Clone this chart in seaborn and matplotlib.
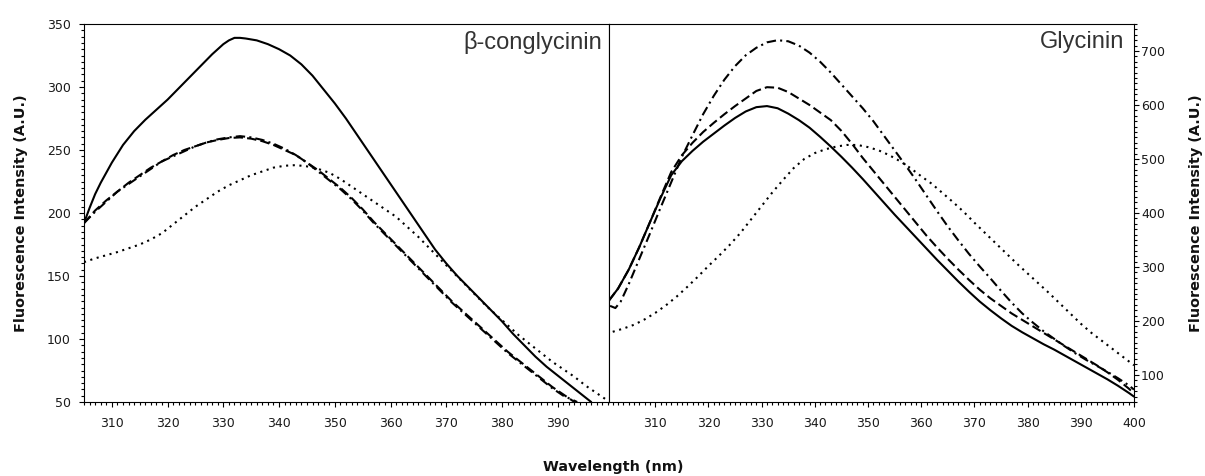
import matplotlib
matplotlib.use("Agg")
import matplotlib.pyplot as plt
from matplotlib.ticker import MultipleLocator
import pandas as pd
import seaborn as sns

# ---- beta-conglycinin emission spectra (left panel) ----
bc_solid_nm = [305, 306, 307, 308, 309, 310, 312, 314, 316, 318, 320, 322, 324, 326, 328,
               330, 331, 332, 333, 334, 336, 338, 340, 342, 344, 346, 348, 350, 352, 354,
               356, 358, 360, 362, 364, 366, 368, 370, 372, 374, 376, 378, 380, 382, 384,
               386, 388, 390, 392, 394, 396]
bc_solid = [192, 204, 215, 224, 232, 240, 254, 265, 274, 282, 290, 299, 308, 317, 326,
            334, 337, 339, 339, 338.5, 337, 334, 330, 325, 318, 309, 298, 287, 275, 262,
            249, 236, 223, 210, 197, 184, 171, 160, 150, 141, 132, 123, 114, 104, 95,
            86, 78, 71, 64, 57, 50]

bc_dash_nm = [305, 307, 309, 311, 313, 315, 317, 319, 321, 323, 325, 327, 329, 331, 333,
              335, 337, 339, 341, 343, 345, 347, 349, 351, 353, 355, 357, 359, 361, 363,
              365, 367, 369, 371, 373, 375, 377, 379, 381, 383, 385, 387, 389, 391, 393]
bc_dash = [192, 202, 210, 217, 224, 230, 236, 241, 246, 250, 253, 256, 258, 259.5, 260,
           259, 257, 254, 250, 246, 240, 234, 227, 220, 212, 203, 193, 184, 175, 166,
           157, 148, 139, 130, 122, 114, 106, 98, 90, 83, 76, 69, 62, 56, 50]

bc_dashdot_nm = [305, 307, 309, 311, 313, 315, 317, 319, 321, 323, 325, 327, 329, 331, 333,
                 335, 337, 339, 341, 343, 345, 347, 349, 351, 353, 355, 357, 359, 361, 363,
                 365, 367, 369, 371, 373, 375, 377, 379, 381, 383, 385, 387, 389, 391, 393.5]
bc_dashdot = [192, 201, 209, 217, 223, 229, 235, 241, 245, 249, 253, 256, 258.5, 260, 261,
              260, 258, 255, 251, 246, 240, 233, 226, 219, 211, 202, 192, 183, 174, 165,
              156, 147, 138, 129, 121, 113, 105, 97, 89, 82, 75, 68, 61, 55, 50]

bc_dot_nm = [305, 307, 309, 311, 313, 315, 317, 319, 321, 323, 325, 327, 329, 331, 333,
             335, 337, 339, 341, 343, 345, 347, 349, 351, 353, 355, 357, 359, 361, 363,
             365, 367, 369, 371, 373, 375, 377, 379, 381, 383, 385, 387, 389, 391, 393,
             395, 397, 399]
bc_dot = [161, 164, 166.5, 169, 172, 175, 179, 184, 191, 198, 205, 211, 217, 222, 226,
          230, 233, 236, 237.5, 238, 237, 235, 232, 227, 221, 215, 209, 203, 197, 189,
          181, 172, 163, 154, 145, 136, 127, 119, 111, 103, 96, 89, 82, 76, 70,
          63, 57, 51]

# ---- glycinin emission spectra (right panel) ----
gl_solid_nm = [301.3, 303, 305, 307, 309, 311, 313, 315, 317, 319, 321, 323, 325, 327, 329,
               331, 333, 335, 337, 339, 341, 343, 345, 347, 349, 351, 353, 355, 357, 359,
               361, 363, 365, 367, 369, 371, 373, 375, 377, 379, 381, 383, 385, 387, 389,
               391, 393, 395, 397, 399, 400]
gl_solid = [238, 260, 295, 337, 383, 428, 470, 496, 515, 532, 547, 562, 576, 588, 596,
            598, 594, 584, 572, 558, 541, 523, 504, 484, 463, 441, 419, 397, 376, 355,
            334, 313, 293, 273, 254, 236, 220, 205, 191, 179, 168, 157, 147, 136, 125,
            114, 103, 92, 80, 67, 60]

gl_dash_nm = [301.3, 303, 305, 307, 309, 311, 313, 315, 317, 319, 321, 323, 325, 327, 329,
              331, 333, 335, 337, 339, 341, 343, 345, 347, 349, 351, 353, 355, 357, 359,
              361, 363, 365, 367, 369, 371, 373, 375, 377, 379, 381, 383, 385, 387, 389,
              391, 393, 395, 397, 399, 400]
gl_dash = [238, 260, 295, 337, 383, 430, 476, 507, 530, 550, 567, 583, 598, 612, 626,
           633, 632, 624, 612, 600, 586, 572, 552, 528, 502, 478, 454, 430, 406, 382,
           358, 336, 315, 295, 276, 258, 242, 228, 214, 202, 190, 178, 166, 154, 142,
           130, 118, 105, 91, 75, 66]

gl_dashdot_nm = [301.5, 302.5, 303.5, 305, 307, 309, 311, 313, 315, 317, 319, 321, 323, 325,
                 327, 329, 331, 333, 335, 337, 339, 341, 343, 345, 347, 349, 351, 353, 355,
                 357, 359, 361, 363, 365, 367, 369, 371, 373, 375, 377, 379, 381, 383, 385,
                 387, 389, 391, 393, 395, 397, 399, 400]
gl_dashdot = [228, 224, 236, 268, 315, 362, 410, 457, 504, 544, 583, 617, 647, 672,
              692, 706, 716, 720, 718, 710, 697, 680, 660, 638, 616, 594, 570, 543, 516,
              489, 461, 432, 403, 375, 349, 324, 301, 279, 256, 234, 214, 197, 181, 167,
              153, 140, 128, 117, 106, 94, 81, 73]

gl_dot_nm = [302, 304, 306, 308, 310, 312, 314, 316, 318, 320, 322, 324, 326, 328, 330,
             332, 334, 336, 338, 340, 342, 344, 346, 348, 350, 352, 354, 356, 358, 360,
             362, 364, 366, 368, 370, 372, 374, 376, 378, 380, 382, 384, 386, 388, 390,
             392, 394, 396, 398, 400]
gl_dot = [180, 186, 193, 203, 215, 229, 245, 263, 282, 302, 321, 341, 363, 388, 413,
          438, 461, 483, 500, 511, 518, 523, 526, 526, 522, 516, 507, 496, 483, 468,
          454, 437, 420, 402, 382, 363, 344, 325, 306, 288, 270, 252, 233, 214, 195,
          178, 163, 148, 133, 118]

styles = ["solid", "dashed", "dashdot", "dotted"]
dash_specs = {"solid": "", "dashed": (4.5, 2.0),
              "dashdot": (4.5, 2.0, 1.0, 2.0), "dotted": (1.0, 2.2)}


def long_frame(series):
    rows = []
    for name, xs, ys in series:
        for x, y in zip(xs, ys):
            rows.append({"nm": x, "intensity": y, "trace": name})
    return pd.DataFrame(rows)


bc_df = long_frame([("solid", bc_solid_nm, bc_solid),
                    ("dashed", bc_dash_nm, bc_dash),
                    ("dashdot", bc_dashdot_nm, bc_dashdot),
                    ("dotted", bc_dot_nm, bc_dot)])
gl_df = long_frame([("solid", gl_solid_nm, gl_solid),
                    ("dashed", gl_dash_nm, gl_dash),
                    ("dashdot", gl_dashdot_nm, gl_dashdot),
                    ("dotted", gl_dot_nm, gl_dot)])

sns.set_style("ticks")
plt.rcParams["font.family"] = ["DejaVu Sans"]

W, H = 1205, 476
fig = plt.figure(figsize=(W / 100, H / 100), dpi=100)
ax1 = fig.add_axes([84 / W, 1 - 402 / H, 525 / W, 378 / H])
ax2 = fig.add_axes([609 / W, 1 - 402 / H, 525 / W, 378 / H])

for ax, df in ((ax1, bc_df), (ax2, gl_df)):
    sns.lineplot(data=df, x="nm", y="intensity", style="trace", style_order=styles,
                 dashes=dash_specs, color="black", linewidth=1.5, estimator=None,
                 sort=True, legend=False, ax=ax)
    ax.set_xlabel("")
    ax.set_ylabel("")
    for sp in ax.spines.values():
        sp.set_visible(True)
        sp.set_color("black")
        sp.set_linewidth(0.8)
    ax.xaxis.set_major_locator(MultipleLocator(10))
    ax.xaxis.set_minor_locator(MultipleLocator(1))
    ax.tick_params(which="both", direction="out", width=0.8, colors="black",
                   labelcolor="#1a1a1a", labelsize=9)
    ax.tick_params(which="major", length=3.5)
    ax.tick_params(which="minor", length=2.0)
    ax.tick_params(axis="x", which="both", top=False, pad=7)

ax1.set_xlim(305, 399.2)
ax1.set_ylim(50, 350)
ax1.yaxis.set_major_locator(MultipleLocator(50))
ax1.yaxis.set_minor_locator(MultipleLocator(5))
ax1.tick_params(axis="y", which="both", right=False, left=True, pad=6)

ax2.set_xlim(301.3, 400)
ax2.set_ylim(50, 750)
ax2.yaxis.set_major_locator(MultipleLocator(100))
ax2.yaxis.set_minor_locator(MultipleLocator(10))
ax2.yaxis.tick_right()
ax2.tick_params(axis="y", which="both", left=False, right=True, pad=1.5)

panel_font = ["Liberation Sans", "DejaVu Sans"]
ax1.text(0.987, 0.952, "β-conglycinin", transform=ax1.transAxes, ha="right",
         va="center", fontsize=17, family=panel_font, color="#333333")
ax2.text(0.981, 0.952, "Glycinin", transform=ax2.transAxes, ha="right",
         va="center", fontsize=17, family=panel_font, color="#333333")

label_kw = dict(fontsize=10.4, fontweight="bold", ha="center", va="center",
                color="#111111")
fig.text(21 / W, 1 - 213 / H, "Fluorescence Intensity (A.U.)", rotation=90, **label_kw)
fig.text(1196 / W, 1 - 213 / H, "Fluorescence Intensity (A.U.)", rotation=90, **label_kw)
fig.text(613 / W, 1 - 467 / H, "Wavelength (nm)", **label_kw)

fig.savefig("out.png", dpi=100)
